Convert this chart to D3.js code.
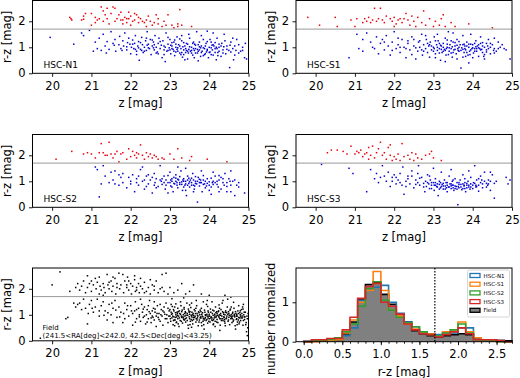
<!DOCTYPE html>
<html>
<head>
<meta charset="utf-8">
<script src="https://cdn.jsdelivr.net/npm/d3@7"></script>
<style>
  body { margin: 0; background: #fff; }
  text { font-family: "DejaVu Sans", sans-serif; }
</style>
</head>
<body>
<div id="chart"></div>
<script>
// ---- data ----
const zTicks = [20, 21, 22, 23, 24, 25];
const rzTicks = [0, 1, 2];
const rzCut = 1.7;

const n1Pts = "20.45,2.15 20.50,2.05 20.48,2.10 20.75,2.05 20.80,2.20 20.85,2.30 20.80,2.08 21.00,2.30 21.10,2.15 21.10,1.95 21.15,2.05 21.25,2.55 21.30,2.40 21.35,2.25 21.40,2.10 21.40,2.50 21.50,2.30 21.55,2.55 21.60,2.50 21.65,2.10 21.70,2.25 21.75,2.05 21.80,1.90 21.85,2.15 21.90,2.10 21.95,2.10 22.00,2.20 22.05,2.00 22.10,2.05 22.15,2.25 22.20,1.95 22.25,2.10 22.35,1.95 22.40,2.05 22.45,2.20 22.55,1.85 22.60,1.95 22.65,2.25 22.70,1.90 22.80,1.80 22.90,1.85 22.95,2.25 23.05,1.85 23.20,1.80 23.20,1.90 23.25,2.45 23.30,1.85 23.55,1.80 21.20,2.10 21.45,1.90 21.60,2.00 21.75,2.35 21.90,1.95 22.00,1.85 22.10,2.30 22.30,2.00 22.50,2.00 22.70,2.10 22.85,2.00 23.10,1.75 21.00,1.85 21.30,2.00 22.20,2.15 21.80,2.05 21.95,2.35 22.40,1.80 " +
  "19.95,1.38 20.55,1.12 20.75,1.55 20.80,1.45 20.95,1.65 21.05,0.85 21.10,1.20 21.15,0.95 21.20,1.35 21.25,0.88 21.30,1.50 21.35,1.05 21.40,1.22 21.45,0.92 21.50,1.60 21.55,1.15 21.60,1.30 21.62,0.85 21.70,1.10 21.72,1.42 21.75,0.95 21.80,1.25 21.82,1.05 21.85,1.55 21.90,0.90 21.92,1.18 21.95,1.35 22.00,0.75 22.02,1.00 22.05,1.28 22.08,0.95 22.10,1.15 22.12,1.45 22.15,0.85 22.18,1.05 22.20,1.22 22.22,0.50 22.25,0.92 22.28,1.38 22.30,1.10 22.32,0.80 22.35,1.00 22.38,1.25 22.40,0.88 22.42,1.60 22.45,1.12 22.48,0.95 22.50,1.30 22.52,0.72 22.55,1.05 22.58,1.20 22.60,0.90 22.62,1.45 22.65,1.00 22.68,0.82 22.70,1.15 22.72,1.35 22.75,0.95 22.78,1.08 22.80,0.60 22.82,1.25 22.85,0.90 22.88,1.00 22.90,1.55 22.92,0.85 22.95,1.12 22.98,0.98 23.00,1.30 23.02,0.75 23.05,1.05 23.08,0.92 23.10,1.20 23.12,0.68 23.15,1.00 23.18,1.40 23.20,0.85 23.22,1.10 23.25,0.78 23.28,0.95 23.30,1.25 23.32,0.62 23.35,0.90 23.38,1.05 23.40,0.80 23.42,1.15 23.45,0.55 23.48,0.92 23.50,1.35 23.52,0.85 23.55,1.00 23.58,0.70 23.60,1.20 23.62,0.88 23.65,0.95 23.68,1.60 23.70,0.78 23.72,1.10 23.75,0.90 23.78,0.65 23.80,1.05 23.82,0.85 23.85,1.30 23.88,0.95 23.90,0.75 23.92,1.15 23.95,0.88 23.98,0.60 24.00,1.00 24.02,0.82 24.05,1.20 24.08,0.90 24.10,0.70 24.12,1.05 24.15,0.95 24.20,1.35 24.22,0.80 24.25,1.00 24.30,0.65 24.32,1.15 24.35,0.90 24.40,1.25 24.42,0.75 24.45,1.05 24.50,0.88 24.52,0.22 24.55,1.20 24.60,0.95 24.65,0.70 24.70,1.30 24.75,1.10 24.80,0.85 24.90,0.60 24.95,0.55 24.85,1.00 " +
  "22.85,1.05 22.95,0.88 23.05,0.95 23.10,0.85 23.15,1.12 23.20,0.98 23.25,1.05 23.30,0.80 23.35,1.18 23.40,0.95 23.45,0.85 23.50,1.02 23.55,0.78 23.60,0.95 23.65,1.08 23.70,0.92 23.75,1.20 23.80,0.80 23.85,0.98 23.90,1.05 23.95,0.92 24.00,0.80 24.05,0.98 24.10,1.10 24.15,0.80 24.20,0.95 24.25,0.85 24.30,1.05 23.00,0.90 23.12,1.28 23.28,0.72 23.42,0.88 23.58,1.15 23.72,0.85 23.88,0.72 24.02,1.30 24.18,1.00 23.62,0.60 23.48,1.50 23.30,1.45 22.70,0.75 22.40,1.35 22.20,0.98 21.90,1.02 22.60,1.10 23.80,1.45 24.38,1.50 24.60,1.35 24.10,1.55 23.95,1.62 " +
  "22.05,1.12 22.15,0.72 22.25,1.18 22.35,0.85 22.45,0.98 22.55,1.28 22.65,0.78 22.75,1.22 22.85,0.72 22.95,1.38 23.05,1.18 23.15,0.82 23.25,1.32 23.35,0.72 23.45,1.12 23.55,0.88 23.65,0.78 23.75,1.02 23.85,0.68 23.95,1.22 24.05,0.72 24.15,1.18 24.25,1.12 24.35,0.78 24.45,0.92 24.55,0.82 24.65,1.05 24.75,0.78 24.85,0.88 24.92,1.15 23.02,1.08 23.18,0.92 23.33,1.02 23.47,0.78 23.63,1.12 23.78,0.98 23.93,0.82 24.07,1.08 24.22,0.68 24.37,1.02 24.53,1.08 24.68,0.88 22.58,0.98 22.42,1.08 22.28,0.88 22.12,0.92 21.98,1.12 21.78,0.88 21.58,1.08 21.38,0.78 23.38,0.52 23.72,0.48 24.18,0.52 22.88,0.45 24.62,0.52";

const s1Pts = "19.80,2.15 20.10,1.85 20.50,2.15 20.55,1.80 20.90,2.05 21.00,1.80 21.05,2.10 21.25,2.10 21.30,2.00 21.35,2.15 21.40,1.95 21.45,2.05 21.50,2.50 21.55,2.00 21.60,2.10 21.65,2.50 21.70,2.05 21.75,1.95 21.90,2.10 21.95,2.00 22.00,2.15 22.05,1.90 22.10,2.05 22.15,2.10 22.20,1.95 22.25,2.10 22.30,2.30 22.35,2.05 22.40,1.85 22.50,2.00 22.55,1.80 22.60,2.15 22.70,1.95 22.75,2.40 22.80,1.85 22.90,2.10 23.00,1.80 23.05,2.00 23.20,2.10 23.25,2.25 23.30,1.80 23.45,1.95 23.55,1.80 23.90,1.90 24.50,1.75 22.45,2.20 21.80,2.20 21.20,1.95 22.00,1.80 23.15,1.85 " +
  "20.85,0.60 21.05,1.50 21.10,0.95 21.20,1.30 21.20,0.85 21.30,1.55 21.40,1.20 21.45,1.00 21.50,0.95 21.55,1.40 21.60,0.75 21.65,1.15 21.70,1.30 21.75,0.90 21.80,1.45 21.85,1.05 21.90,0.70 21.95,1.20 22.00,1.60 22.05,0.95 22.10,1.10 22.15,0.80 22.20,1.30 22.25,1.00 22.30,0.60 22.35,1.15 22.40,0.90 22.45,1.40 22.50,1.05 22.55,0.55 22.60,0.85 22.62,1.20 22.65,1.00 22.70,1.50 22.72,0.70 22.75,1.10 22.80,0.95 22.82,1.30 22.85,0.80 22.88,1.05 22.90,0.62 22.92,1.20 22.95,0.90 23.00,1.00 23.02,1.40 23.05,0.75 23.08,1.10 23.10,0.88 23.12,1.25 23.15,0.95 23.18,0.50 23.20,1.05 23.22,0.80 23.25,1.15 23.28,0.92 23.30,1.35 23.32,0.70 23.35,1.00 23.38,1.60 23.40,0.85 23.42,1.10 23.45,0.95 23.48,0.62 23.50,1.20 23.52,0.90 23.55,1.05 23.58,0.75 23.60,1.30 23.62,0.95 23.65,0.85 23.68,1.10 23.70,0.20 23.72,0.98 23.75,1.45 23.78,0.80 23.80,1.05 23.82,0.90 23.85,1.20 23.88,0.70 23.90,1.00 23.92,0.85 23.95,1.50 23.98,0.95 24.00,1.10 24.02,0.78 24.05,0.95 24.08,1.25 24.10,0.85 24.12,1.05 24.15,0.65 24.18,0.95 24.20,1.15 24.25,0.80 24.30,1.00 24.35,0.90 24.40,1.30 24.45,0.75 24.50,1.10 24.55,0.95 24.60,0.85 24.65,1.20 24.70,1.00 24.80,0.95 24.85,0.90 24.95,0.55 24.55,1.35 " +
  "22.90,1.10 23.00,0.85 23.10,1.00 23.15,1.15 23.20,0.92 23.25,1.00 23.30,0.88 23.35,1.12 23.40,0.98 23.45,1.25 23.50,0.80 23.55,0.92 23.60,1.08 23.65,1.00 23.70,0.88 23.75,1.10 23.80,0.95 23.85,0.80 23.90,1.12 23.95,0.90 24.00,0.98 24.05,1.15 24.10,0.95 24.15,1.10 24.20,0.90 24.25,1.05 24.30,0.72 24.35,1.15 24.40,0.95 24.45,1.00 23.05,0.60 23.30,0.45 23.60,0.55 23.90,0.40 24.30,0.55 22.70,0.90 22.50,1.30 22.30,0.95 22.10,1.35 24.20,1.40 23.10,1.50 22.80,1.45 23.50,1.55 24.00,0.60 23.75,0.62 " +
  "22.55,0.98 22.65,1.25 22.75,0.85 22.85,1.15 22.95,1.05 23.05,1.25 23.15,0.78 23.25,0.85 23.35,1.28 23.45,0.78 23.55,1.18 23.65,1.22 23.75,0.92 23.85,1.05 23.95,1.12 24.05,0.85 24.15,0.98 24.25,1.18 24.35,0.82 24.45,1.15 24.55,0.78 24.65,0.95 24.75,1.10 23.02,0.95 23.18,1.08 23.33,0.95 23.48,1.02 23.63,0.88 23.78,1.12 23.93,0.72 24.08,1.02 24.23,0.92 24.38,1.05 24.53,0.88 22.35,1.25 22.15,1.00 21.95,0.88 21.75,1.20 22.45,0.72 23.38,0.72 23.82,0.65 24.28,0.65";

const s2Pts = "20.10,1.85 20.50,2.15 20.80,2.05 20.90,2.10 21.00,2.05 21.10,1.90 21.20,2.10 21.25,2.45 21.30,2.10 21.35,2.00 21.45,2.50 21.50,2.05 21.55,1.90 21.60,2.05 21.65,2.15 21.70,1.75 21.75,2.05 21.80,2.10 21.90,1.85 22.00,1.95 22.05,2.15 22.10,2.00 22.15,1.90 22.20,2.05 22.25,2.40 22.30,2.00 22.35,1.85 22.40,2.10 22.45,1.95 22.50,2.05 22.55,1.90 22.60,2.00 22.70,1.85 22.80,1.90 22.85,1.85 23.00,2.05 23.10,1.85 23.20,2.25 23.30,1.90 23.50,1.80 23.55,1.95 23.95,1.85 24.45,1.75 22.15,2.10 21.95,2.25 21.40,2.00 22.65,1.95 " +
  "21.10,1.55 21.15,1.45 21.20,0.40 21.25,0.90 21.30,1.60 21.35,1.20 21.45,0.95 21.50,1.35 21.55,1.05 21.60,1.40 21.70,0.85 21.75,1.15 21.80,1.30 21.90,0.75 22.00,1.00 22.05,1.25 22.10,0.60 22.15,1.10 22.20,0.85 22.25,1.45 22.30,1.00 22.35,0.70 22.40,1.20 22.45,0.90 22.50,1.05 22.55,0.55 22.60,1.30 22.62,0.95 22.65,1.10 22.70,0.80 22.75,1.60 22.78,1.00 22.80,0.88 22.85,1.20 22.88,0.70 22.90,1.05 22.95,0.95 23.00,1.35 23.02,0.82 23.05,1.00 23.08,0.60 23.10,1.15 23.12,0.90 23.15,1.25 23.18,0.95 23.20,0.75 23.22,1.05 23.25,0.88 23.28,1.40 23.30,0.98 23.32,0.65 23.35,1.10 23.38,0.85 23.40,1.00 23.42,0.45 23.45,1.20 23.48,0.92 23.50,0.78 23.52,1.05 23.55,0.95 23.58,1.30 23.60,0.85 23.62,0.70 23.65,1.00 23.68,0.90 23.70,0.20 23.72,1.15 23.75,0.82 23.78,0.95 23.80,1.40 23.82,0.60 23.85,1.05 23.88,0.90 23.90,0.75 23.95,1.10 24.00,0.85 24.05,0.50 24.10,1.00 24.15,1.20 24.20,0.88 24.25,1.05 24.30,0.70 24.35,0.95 24.40,1.30 24.45,0.80 24.50,1.10 24.55,0.60 24.60,1.00 24.65,0.45 24.70,0.85 24.75,0.95 24.90,0.55 24.55,1.40 " +
  "22.90,0.85 23.00,0.95 23.05,1.10 23.10,0.92 23.15,1.00 23.20,1.08 23.25,0.95 23.30,0.88 23.35,1.00 23.40,0.90 23.45,1.05 23.50,0.98 23.55,0.85 23.60,1.05 23.65,0.92 23.70,1.00 23.75,1.08 23.80,0.95 23.85,0.88 23.90,1.00 24.00,0.98 24.05,1.12 24.10,0.88 24.20,1.00 24.30,1.15 22.80,1.10 22.60,0.85 22.40,0.80 22.20,1.20 22.00,0.90 21.80,0.95 23.20,1.55 23.40,1.50 24.10,1.35 24.25,0.60 22.95,0.55 23.60,0.60 21.60,0.90 22.30,1.55 " +
  "22.55,1.15 22.65,0.75 22.75,1.05 22.85,0.95 22.95,1.22 23.05,0.78 23.15,1.12 23.25,1.18 23.35,0.78 23.45,0.85 23.55,1.12 23.65,1.18 23.75,0.95 23.85,1.22 23.95,0.92 24.05,0.78 24.15,0.95 24.25,1.22 24.35,1.10 24.45,0.95 24.55,0.85 24.65,1.05 24.75,0.78 23.02,1.05 23.18,0.85 23.33,1.05 23.48,1.12 23.63,0.82 23.78,1.05 23.93,0.82 24.08,0.95 24.23,0.78 24.38,0.85 24.53,1.00 22.35,1.05 22.15,0.95 21.95,1.15 21.70,1.25 22.45,1.25 23.40,0.65 24.00,0.65 24.45,0.60";

const s3Pts = "20.30,2.10 20.40,2.20 20.55,2.20 20.70,2.15 20.80,2.05 20.90,2.35 21.00,2.05 21.05,2.15 21.10,2.10 21.15,2.20 21.20,1.95 21.25,2.05 21.30,2.10 21.35,2.30 21.40,2.00 21.45,2.35 21.50,1.90 21.55,2.10 21.60,2.25 21.65,2.50 21.70,2.00 21.75,2.10 21.80,1.85 21.85,2.30 21.90,2.00 21.95,1.80 22.00,1.95 22.05,1.85 22.10,2.05 22.15,1.80 22.20,2.45 22.25,1.95 22.40,1.85 22.45,2.10 22.50,1.80 22.55,2.05 22.60,1.90 22.70,1.85 22.80,2.00 22.90,2.05 22.95,2.15 23.00,1.90 23.20,1.80 22.35,2.00 21.35,1.85 21.90,2.40 " +
  "20.15,1.65 20.85,1.50 20.95,1.30 21.30,0.60 21.40,1.45 21.50,1.10 21.55,1.30 21.60,0.95 21.70,1.60 21.75,1.20 21.80,1.00 21.85,1.35 21.90,0.80 21.95,1.15 22.00,1.25 22.05,0.90 22.10,1.05 22.15,1.30 22.20,0.85 22.22,1.55 22.25,0.50 22.30,1.00 22.35,1.20 22.40,0.90 22.45,1.40 22.50,0.75 22.55,1.05 22.60,0.95 22.62,1.60 22.65,0.85 22.70,1.15 22.75,0.92 22.78,0.60 22.80,1.00 22.82,0.80 22.85,1.25 22.88,0.90 22.90,0.72 22.92,1.05 22.95,0.85 23.00,0.95 23.02,0.65 23.05,1.10 23.08,0.80 23.10,0.90 23.12,0.45 23.15,1.00 23.18,0.75 23.20,1.35 23.22,0.88 23.25,0.70 23.28,1.05 23.30,0.82 23.32,0.95 23.35,0.60 23.38,0.78 23.40,1.20 23.42,0.90 23.45,0.72 23.48,1.00 23.50,0.85 23.52,0.65 23.55,1.10 23.58,0.80 23.60,0.95 23.62,0.10 23.65,0.75 23.68,1.05 23.70,0.88 23.72,0.68 23.75,1.25 23.78,0.82 23.80,0.95 23.82,0.60 23.85,0.75 23.88,1.00 23.90,0.85 23.95,1.15 24.00,0.72 24.02,0.95 24.05,1.60 24.08,0.85 24.10,1.05 24.15,0.62 24.20,1.20 24.25,0.90 24.30,1.35 24.35,0.78 24.40,1.05 24.45,0.65 24.50,1.25 24.55,0.35 24.60,1.00 24.85,1.15 24.95,1.05 24.90,0.90 " +
  "22.95,0.95 23.05,0.85 23.10,0.78 23.15,0.88 23.20,0.80 23.25,0.92 23.30,0.70 23.35,0.85 23.40,0.78 23.45,0.90 23.50,0.75 23.55,0.82 23.60,0.70 23.65,0.88 23.70,0.78 23.75,0.90 23.80,0.72 23.85,0.85 23.90,0.78 23.95,0.90 24.00,0.85 24.10,0.80 24.20,0.95 24.30,1.00 24.40,0.90 22.90,1.20 22.60,1.30 22.30,0.80 22.05,1.15 23.00,1.50 23.45,1.45 23.90,1.40 24.45,1.35 " +
  "22.55,0.88 22.65,1.12 22.75,0.78 22.85,0.95 22.95,0.72 23.05,0.95 23.15,0.70 23.25,0.82 23.35,0.95 23.45,0.82 23.55,0.72 23.65,0.95 23.75,0.72 23.85,0.92 23.95,0.78 24.05,0.92 24.15,0.85 24.25,0.75 24.35,0.92 24.45,1.00 24.55,0.92 23.02,0.85 23.18,0.95 23.33,0.75 23.48,0.85 23.63,0.80 23.78,0.85 23.93,0.70 24.08,0.78 24.23,1.05 24.38,0.85 22.35,1.10 22.15,0.95 21.95,1.00 21.65,1.15 22.45,1.20 23.50,1.05 23.80,1.10 24.15,1.10";

const fieldPts = "20.00,2.15 20.20,2.65 20.45,1.90 20.60,2.05 20.65,2.20 20.70,1.95 20.75,2.10 20.80,2.30 20.85,1.85 20.90,2.05 20.95,2.20 21.00,1.90 21.05,2.15 21.10,2.40 21.12,2.00 21.15,2.25 21.20,1.80 21.22,2.10 21.25,1.95 21.30,2.20 21.32,2.05 21.35,1.85 21.40,2.55 21.42,2.15 21.45,2.00 21.50,2.30 21.52,1.90 21.55,2.10 21.60,2.40 21.62,1.80 21.65,2.20 21.70,2.60 21.72,2.00 21.75,2.15 21.80,2.55 21.82,1.85 21.85,2.30 21.90,2.05 21.92,2.45 21.95,1.95 22.00,2.20 22.02,1.80 22.05,2.10 22.10,2.35 22.12,1.90 22.15,2.05 22.20,2.20 22.22,1.85 22.25,2.10 22.30,2.00 22.35,2.25 22.40,1.90 22.45,2.05 22.50,1.80 22.55,2.15 22.60,1.95 22.65,2.30 22.70,1.85 22.75,2.00 22.80,2.55 22.85,1.90 22.90,2.60 22.95,1.80 23.00,2.05 23.10,1.85 23.20,1.95 23.30,2.20 23.40,1.80 23.50,1.90 23.60,2.15 23.80,1.80 24.00,1.75 24.40,1.75 21.00,2.30 21.20,2.45 21.45,2.25 21.65,2.05 21.95,2.30 22.15,1.95 22.35,1.85 22.60,2.10 20.90,2.50 21.30,1.75 22.25,2.40 22.80,2.05 22.10,2.50 21.55,2.45 21.90,2.15 22.50,2.35 " +
  "19.70,0.10 20.35,0.85 20.40,0.90 20.55,1.45 20.60,1.30 20.70,1.45 20.75,1.20 20.80,1.60 20.85,1.25 20.90,0.65 20.95,1.40 21.00,1.55 21.05,1.10 21.10,1.30 21.15,1.60 21.20,0.95 21.25,1.35 21.30,1.50 21.35,1.15 21.40,0.80 21.45,1.40 21.50,1.00 21.55,1.25 21.60,1.55 21.65,0.90 21.70,1.30 21.75,1.10 21.80,0.70 21.85,1.45 21.90,1.20 21.95,0.95 22.00,1.35 22.05,0.60 22.10,1.15 22.12,1.50 22.15,0.85 22.20,1.25 22.22,1.00 22.25,0.75 22.28,1.40 22.30,1.10 22.32,0.90 22.35,1.30 22.38,0.65 22.40,1.00 22.42,1.20 22.45,0.85 22.48,1.55 22.50,1.05 22.52,0.70 22.55,0.95 22.58,1.25 22.60,0.80 22.62,1.10 22.65,0.55 22.68,1.35 22.70,0.90 22.72,1.05 22.75,0.75 22.78,1.20 22.80,0.95 22.82,0.60 22.85,1.10 22.88,0.85 22.90,1.45 22.92,1.00 22.95,0.70 22.98,1.15 21.85,0.85 22.05,1.05 22.45,1.35 22.65,0.95 22.85,1.30 21.55,0.70 21.20,1.15 " +
  "23.00,0.95 23.00,1.20 23.02,0.75 23.03,1.40 23.05,0.88 23.06,1.05 23.08,0.62 23.10,1.15 23.10,0.92 23.12,1.30 23.13,0.80 23.15,1.00 23.16,0.70 23.18,1.10 23.20,0.85 23.20,1.25 23.22,0.95 23.23,0.55 23.25,1.05 23.26,0.78 23.28,1.35 23.30,0.90 23.30,1.12 23.32,0.68 23.34,1.00 23.35,0.82 23.36,1.22 23.38,0.95 23.40,0.72 23.40,1.08 23.42,0.88 23.43,1.45 23.45,0.98 23.46,0.60 23.48,1.15 23.50,0.85 23.50,1.02 23.52,0.75 23.53,1.28 23.55,0.92 23.56,1.10 23.58,0.65 23.60,0.98 23.60,0.82 23.62,1.20 23.63,0.90 23.65,1.05 23.66,0.72 23.68,1.35 23.70,0.88 23.70,0.98 23.72,0.58 23.73,1.12 23.75,0.80 23.76,1.00 23.78,0.92 23.80,1.25 23.80,0.70 23.82,0.95 23.83,1.08 23.85,0.85 23.86,0.62 23.88,1.18 23.90,0.90 23.90,1.00 23.92,0.78 23.93,1.40 23.95,0.95 23.96,0.68 23.98,1.10 24.00,0.85 24.00,1.02 24.02,0.72 24.03,1.22 24.05,0.92 24.06,0.80 24.08,1.05 24.10,0.98 24.10,0.62 24.12,1.15 24.13,0.88 24.15,0.75 24.16,1.30 24.18,0.95 24.20,1.05 24.20,0.82 24.22,0.70 24.23,1.12 24.25,0.90 24.26,1.00 24.28,0.60 24.30,1.20 24.30,0.85 24.32,0.95 24.33,1.45 24.35,0.78 24.36,1.08 24.38,0.90 24.40,1.00 24.40,0.68 24.42,1.15 24.43,0.85 24.45,0.95 24.46,1.30 24.48,0.75 24.50,1.05 24.50,0.90 24.52,0.62 24.53,1.18 24.55,0.85 24.56,1.00 24.58,0.70 24.60,1.10 24.60,0.95 24.62,0.80 24.63,1.25 24.65,0.92 24.66,0.58 24.68,1.05 24.70,0.85 24.70,1.00 24.72,0.72 24.73,1.15 24.75,0.90 24.76,0.65 24.78,1.08 24.80,0.95 24.80,0.78 24.82,1.20 24.84,0.88 24.86,0.60 24.88,1.00 24.90,0.82 24.92,1.10 24.94,0.70 24.96,0.95 24.98,0.50 " +
  "23.04,1.02 23.14,0.90 23.24,1.15 23.34,0.88 23.44,1.05 23.54,0.82 23.64,0.95 23.74,1.08 23.84,0.75 23.94,1.02 24.04,0.88 24.14,1.02 24.24,0.95 24.34,0.85 24.44,1.08 24.54,0.95 24.64,1.02 24.74,0.80 24.84,0.95 23.09,0.78 23.19,1.05 23.29,0.95 23.39,0.85 23.49,1.10 23.59,0.90 23.69,0.80 23.79,1.12 23.89,0.85 23.99,0.95 24.09,0.78 24.19,1.12 24.29,0.98 24.39,0.82 24.49,1.12 24.59,0.85 24.69,0.95 24.79,1.15 24.89,0.92 23.17,0.92 23.37,1.05 23.57,1.00 23.77,0.88 23.97,0.88 24.17,0.90 24.37,1.02 24.57,0.92 24.77,0.88 23.27,1.50 23.67,1.55 24.07,1.50 24.47,1.60 24.87,1.40 23.47,0.48 23.87,0.45 24.27,0.40 24.67,0.45 24.97,0.20 24.95,0.35 23.12,0.58 23.55,0.52 24.15,0.55 24.85,1.30 24.62,1.48 24.25,1.38 23.85,1.50 23.50,1.38 23.15,1.42 22.95,1.25 22.75,1.40 22.55,1.15 22.35,0.95 22.15,1.20 22.25,1.60 22.60,1.50 23.05,1.62 23.35,1.65 24.55,1.68 " +
  "23.01,0.85 23.03,1.10 23.07,0.95 23.09,1.20 23.11,0.80 23.14,1.08 23.17,0.72 23.19,0.98 23.21,1.12 23.24,0.88 23.27,1.02 23.29,0.75 23.31,1.18 23.33,0.92 23.37,0.80 23.39,1.12 23.41,0.98 23.44,0.78 23.47,1.22 23.49,0.92 23.51,1.12 23.54,0.98 23.57,0.78 23.59,1.05 23.61,0.90 23.64,1.15 23.67,0.85 23.69,1.05 23.71,0.95 23.74,0.72 23.77,1.18 23.79,0.88 23.81,1.02 23.84,0.92 23.87,0.80 23.89,1.10 23.91,0.98 23.94,0.82 23.97,1.15 23.99,0.75 24.01,0.95 24.04,1.10 24.07,0.88 24.09,1.18 24.11,0.82 24.14,0.95 24.17,1.08 24.19,0.72 24.21,0.98 24.24,1.15 24.27,0.85 24.29,1.05 24.31,0.78 24.34,1.12 24.37,0.92 24.39,0.75 24.41,1.10 24.44,0.88 24.47,1.02 24.49,0.80 24.51,0.98 24.54,1.22 24.57,0.88 24.59,1.05 24.61,0.75 24.64,0.98 24.67,1.12 24.69,0.82 24.71,0.95 24.74,1.05 24.77,0.72 24.79,1.00 24.81,0.88 24.83,1.05 24.87,0.78 24.89,1.10 24.91,0.92 24.93,0.62 24.97,0.85 24.99,1.05 23.06,1.32 23.36,1.28 23.66,1.25 23.96,1.32 24.26,1.25 24.56,1.30 24.86,1.22 23.21,0.65 23.51,0.62 23.81,0.58 24.11,0.65 24.41,0.58 24.71,0.62 22.52,0.88 22.62,1.22 22.72,0.82 22.82,1.15 22.92,0.85 22.42,0.72 22.32,1.22 22.22,0.92 22.12,0.72 22.02,1.15 21.92,1.35 21.82,1.05 21.72,0.92 21.62,1.18 21.52,1.45 21.42,1.08 21.32,0.98 21.02,1.25 20.92,1.05 20.65,1.40 22.97,0.95 22.87,1.02 22.77,1.00 22.67,1.05 22.57,0.90 22.47,1.12 23.55,1.45 23.95,1.55 24.35,1.55 24.75,1.35";

const rzBins = [0.0, 0.1, 0.2, 0.3, 0.4, 0.5, 0.6, 0.7, 0.8, 0.9, 1.0, 1.1, 1.2, 1.3, 1.4, 1.5, 1.6, 1.7, 1.8, 1.9, 2.0, 2.1, 2.2, 2.3, 2.4, 2.5, 2.6, 2.7];
const histN1 = [0.00, 0.02, 0.03, 0.03, 0.05, 0.15, 0.35, 1.05, 1.30, 1.38, 1.43, 1.00, 0.72, 0.50, 0.38, 0.22, 0.20, 0.18, 0.22, 0.22, 0.35, 0.35, 0.10, 0.05, 0.05, 0.03, 0.00];
const histS1 = [0.00, 0.00, 0.02, 0.04, 0.05, 0.22, 0.55, 1.00, 1.30, 1.78, 1.30, 0.80, 0.65, 0.45, 0.32, 0.25, 0.20, 0.15, 0.25, 0.30, 0.50, 0.25, 0.10, 0.05, 0.03, 0.00, 0.00];
const histS2 = [0.00, 0.02, 0.03, 0.06, 0.10, 0.25, 0.45, 0.90, 1.35, 1.52, 1.05, 0.80, 0.62, 0.48, 0.38, 0.25, 0.18, 0.15, 0.22, 0.30, 0.45, 0.22, 0.05, 0.03, 0.03, 0.00, 0.00];
const histS3 = [0.00, 0.05, 0.05, 0.08, 0.08, 0.30, 0.62, 1.10, 1.40, 1.48, 1.00, 0.90, 0.70, 0.45, 0.30, 0.20, 0.18, 0.12, 0.18, 0.25, 0.35, 0.20, 0.05, 0.05, 0.05, 0.03, 0.00];
const histField = [0.01, 0.02, 0.03, 0.04, 0.05, 0.20, 0.50, 1.08, 1.45, 1.50, 1.20, 0.95, 0.70, 0.50, 0.28, 0.20, 0.15, 0.12, 0.15, 0.18, 0.20, 0.18, 0.10, 0.05, 0.04, 0.03, 0.02];
const histTicks = [0.0, 0.5, 1.0, 1.5, 2.0, 2.5];
const histYTicks = [0, 1];

// ---- layout ----
const width = 520, height = 378;
const pw = 216, ph = 72.8;
const colX = [32.5, 296];
const rowY = [0.5, 134.5, 268];

const svg = d3.select("#chart").append("svg")
    .attr("width", width)
    .attr("height", height)
    .style("background", "#fff");

function parsePts(str) {
    return str.trim().split(/\s+/).map(function(s) {
        const p = s.split(",");
        return { z: +p[0], rz: +p[1] };
    });
}

function styleAxis(g) {
    g.select(".domain").remove();
    g.selectAll(".tick line").attr("stroke", "#000").attr("stroke-width", 0.9);
    g.selectAll(".tick text").attr("font-size", "11.5px").attr("fill", "#000")
        .attr("font-family", "DejaVu Sans, sans-serif");
}

function scatterPanel(pts, x0, y0, mono, label, label2) {
    const x = d3.scaleLinear().domain([19.5, 25]).range([x0, x0 + pw]);
    const y = d3.scaleLinear().domain([0, 2.8]).range([y0 + ph, y0]);
    const g = svg.append("g");

    g.append("g").selectAll("rect")
        .data(parsePts(pts))
        .join("rect")
        .attr("x", d => x(d.z) - 0.75)
        .attr("y", d => y(d.rz) - 0.75)
        .attr("width", 1.5)
        .attr("height", 1.5)
        .attr("fill", d => mono ? "#000" : (d.rz > rzCut ? "#e8000b" : "#0000d0"));

    g.append("line")
        .attr("x1", x0).attr("x2", x0 + pw)
        .attr("y1", y(rzCut)).attr("y2", y(rzCut))
        .attr("stroke", "#999").attr("stroke-width", 1);

    g.append("g")
        .attr("transform", `translate(0,${y0 + ph})`)
        .call(d3.axisBottom(x).tickValues(zTicks).tickSize(3.5).tickPadding(5).tickFormat(d3.format("d")))
        .call(styleAxis);

    g.append("g")
        .attr("transform", `translate(${x0},0)`)
        .call(d3.axisLeft(y).tickValues(rzTicks).tickSize(3.5).tickPadding(3.5).tickFormat(d3.format("d")))
        .call(styleAxis);

    g.append("rect")
        .attr("x", x0).attr("y", y0).attr("width", pw).attr("height", ph)
        .attr("fill", "none").attr("stroke", "#000").attr("stroke-width", 1);

    g.append("text")
        .attr("x", x0 + pw / 2).attr("y", y0 + ph + 34)
        .attr("text-anchor", "middle").attr("font-size", "11.5px")
        .text("z [mag]");

    g.append("text")
        .attr("transform", `translate(${x0 - 21.5},${y0 + ph / 2}) rotate(-90)`)
        .attr("text-anchor", "middle").attr("font-size", "11.5px")
        .text("r-z [mag]");

    if (label2) {
        g.append("text").attr("x", x0 + 10).attr("y", y0 + ph - 11)
            .attr("font-size", "7px").text(label);
        g.append("text").attr("x", x0 + 10).attr("y", y0 + ph - 3)
            .attr("font-size", "7px").text(label2);
    } else {
        g.append("text").attr("x", x0 + 11).attr("y", y0 + ph - 5)
            .attr("font-size", "9px").text(label);
    }
}

scatterPanel(n1Pts, colX[0], rowY[0], false, "HSC-N1");
scatterPanel(s1Pts, colX[1], rowY[0], false, "HSC-S1");
scatterPanel(s2Pts, colX[0], rowY[1], false, "HSC-S2");
scatterPanel(s3Pts, colX[1], rowY[1], false, "HSC-S3");
scatterPanel(fieldPts, colX[0], rowY[2], true, "Field", "(241.5<RA[deg]<242.0, 42.5<Dec[deg]<43.25)");

// ---- histogram panel ----
(function() {
    const x0 = colX[1], y0 = rowY[2];
    const hh = 73.7;
    const x = d3.scaleLinear().domain([-0.1, 2.7]).range([x0, x0 + pw]);
    const y = d3.scaleLinear().domain([0, 1.87]).range([y0 + hh, y0]);
    const g = svg.append("g");

    function stepPts(vals) {
        const p = [[rzBins[0], 0]];
        vals.forEach(function(v, i) {
            p.push([rzBins[i], v]);
            p.push([rzBins[i + 1], v]);
        });
        p.push([rzBins[vals.length], 0]);
        return p;
    }
    const line = d3.line().x(d => x(d[0])).y(d => y(d[1]));

    g.append("path").attr("d", line(stepPts(histField)))
        .attr("fill", "#808080").attr("stroke", "#000").attr("stroke-width", 1.6);

    const series = [
        { name: "HSC-N1", vals: histN1, color: "#1f77b4" },
        { name: "HSC-S1", vals: histS1, color: "#ff7f0e" },
        { name: "HSC-S2", vals: histS2, color: "#2ca02c" },
        { name: "HSC-S3", vals: histS3, color: "#d62728" }
    ];
    series.forEach(function(s) {
        g.append("path").attr("d", line(stepPts(s.vals)))
            .attr("fill", "none").attr("stroke", s.color).attr("stroke-width", 1.6);
    });

    g.append("line")
        .attr("x1", x(rzCut)).attr("x2", x(rzCut))
        .attr("y1", y0).attr("y2", y0 + hh)
        .attr("stroke", "#000").attr("stroke-width", 1.2)
        .attr("stroke-dasharray", "1.5,1.5");

    g.append("g")
        .attr("transform", `translate(0,${y0 + hh})`)
        .call(d3.axisBottom(x).tickValues(d3.range(0, 2.75, 0.1)).tickSize(2).tickFormat(""))
        .call(styleAxis);

    g.append("g")
        .attr("transform", `translate(0,${y0 + hh})`)
        .call(d3.axisBottom(x).tickValues(histTicks).tickSize(3.5).tickPadding(5).tickFormat(d3.format(".1f")))
        .call(styleAxis);

    g.append("g")
        .attr("transform", `translate(${x0},0)`)
        .call(d3.axisLeft(y).tickValues(histYTicks).tickSize(3.5).tickPadding(3.5).tickFormat(d3.format("d")))
        .call(styleAxis);

    g.append("rect")
        .attr("x", x0).attr("y", y0).attr("width", pw).attr("height", hh)
        .attr("fill", "none").attr("stroke", "#000").attr("stroke-width", 1);

    g.append("text")
        .attr("x", x0 + pw / 2).attr("y", y0 + hh + 34)
        .attr("text-anchor", "middle").attr("font-size", "11.5px")
        .text("r-z [mag]");

    g.append("text")
        .attr("transform", `translate(${x0 - 21.5},${y0 + hh / 2 + 14}) rotate(-90)`)
        .attr("text-anchor", "middle").attr("font-size", "11.5px")
        .text("number normalized");

    // legend
    const lx = 467.5, ly = 270;
    g.append("rect").attr("x", lx).attr("y", ly).attr("width", 42).attr("height", 47)
        .attr("fill", "#fff").attr("fill-opacity", 0.8).attr("stroke", "#ccc").attr("stroke-width", 0.8).attr("rx", 1.5);
    const items = series.concat([{ name: "Field", color: "#000", fill: "#808080" }]);
    items.forEach(function(s, i) {
        const yy = ly + 3.5 + i * 8.7;
        g.append("rect").attr("x", lx + 2.5).attr("y", yy).attr("width", 10).attr("height", 4)
            .attr("fill", s.fill || "none").attr("stroke", s.color).attr("stroke-width", 1.3);
        g.append("text").attr("x", lx + 16).attr("y", yy + 4).attr("font-size", "5.5px").text(s.name);
    });
})();
</script>
</body>
</html>
